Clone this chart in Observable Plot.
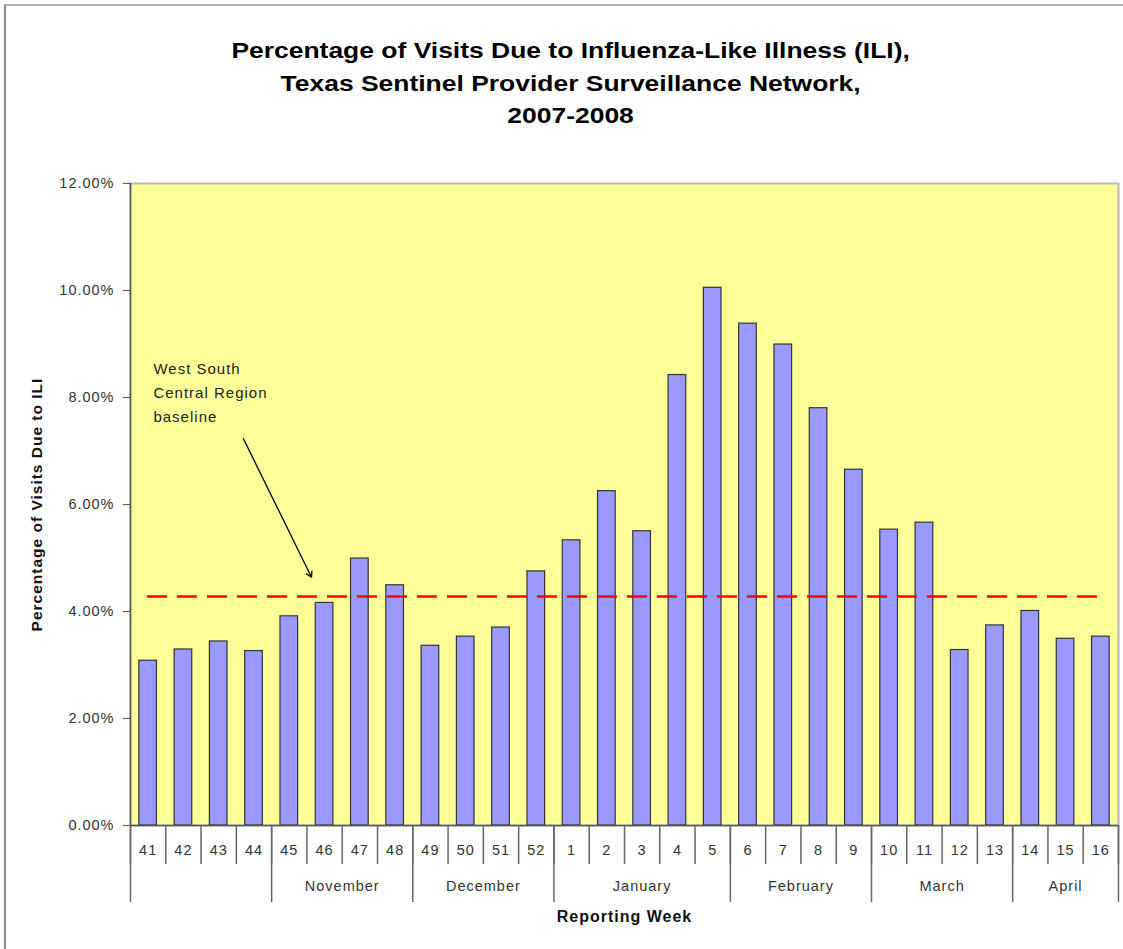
<!DOCTYPE html>
<html>
<head>
<meta charset="utf-8">
<script src="https://cdn.jsdelivr.net/npm/d3@7"></script>
<script src="https://cdn.jsdelivr.net/npm/@observablehq/plot@0.6"></script>
<style>
  html, body { margin: 0; padding: 0; background: #fff; overflow: hidden; }
  #page { position: relative; width: 1123px; height: 949px; font-family: "Liberation Sans", Arial, sans-serif; }
  #frameline { position: absolute; left: 4px; top: 4px; width: 1200px; height: 1000px; border-left: 2px solid #8a8a8a; border-top: 2px solid #b0b0b0; }
  #title { position: absolute; left: 0; top: 35px; width: 1141px; text-align: center; font-weight: bold; font-size: 21.5px; line-height: 32.5px; color: #000; transform: scaleX(1.23); transform-origin: 570px 0; }
  #chart { position: absolute; left: 0; top: 140px; }
</style>
</head>
<body>
<div id="page">
  <div id="frameline"></div>
  <div id="title">Percentage of Visits Due to Influenza-Like Illness (ILI),<br>Texas Sentinel Provider Surveillance Network,<br>2007-2008</div>
  <div id="chart"></div>
</div>
<script>
// Reporting weeks (tick labels)
const weeks = ["41","42","43","44","45","46","47","48","49","50","51","52","1","2","3","4","5","6","7","8","9","10","11","12","13","14","15","16"];
// Percentage of visits due to ILI (fraction)
const ili = [0.0308,0.0329,0.0344,0.0326,0.0391,0.0416,0.0499,0.0449,0.0336,0.0353,0.0370,0.0475,0.0533,0.0625,0.0550,0.0842,0.1005,0.0938,0.0899,0.0780,0.0665,0.0553,0.0566,0.0328,0.0374,0.0401,0.0349,0.0353];
// Month groups: label and number of weeks
const months = ["", "November", "December", "January", "February", "March", "April"];
const monthWeeks = [4, 4, 4, 5, 4, 4, 3];
// Baseline value
const baseline = 0.0428;
// Annotation
const annotationText = "West South\nCentral Region\nbaseline";

const bars = weeks.map((w, i) => ({i, week: w, value: ili[i]}));
const weekCenters = weeks.map((w, i) => i + 0.5);
const weekSeps = d3.range(weeks.length + 1);
const monthEdges = [0, ...d3.cumsum(monthWeeks)];
const monthCenters = monthWeeks.map((n, k) => monthEdges[k] + n / 2);

const chart = Plot.plot({
  width: 1123,
  height: 809,
  marginLeft: 130,
  marginRight: 5,
  marginTop: 43,
  marginBottom: 124,
  style: {fontFamily: "'Liberation Sans', Arial, sans-serif", background: "transparent", overflow: "visible", letterSpacing: "1px"},
  x: {type: "linear", domain: [0, weeks.length]},
  y: {domain: [0, 0.12]},
  marks: [
    Plot.frame({fill: "#FFFF99", stroke: "#b8b8b8", strokeWidth: 2}),
    Plot.rectY(bars, {x1: d => d.i + 0.25, x2: d => d.i + 0.75, y: "value", fill: "#9999FF", stroke: "#333", strokeWidth: 1.2}),
    Plot.ruleY([baseline], {x1: 0.48, x2: 27.45, stroke: "#FF0000", strokeWidth: 2.5, strokeDasharray: "20,10"}),
    Plot.arrow([{x1: 3.2, y1: 0.0723, x2: 5.13, y2: 0.0464}], {x1: "x1", y1: "y1", x2: "x2", y2: "y2", stroke: "#000", strokeWidth: 1.3, headLength: 7, bend: 0}),
    Plot.text([annotationText], {x: 0.65, y: 0.0876, text: d => d, textAnchor: "start", lineAnchor: "top", lineHeight: 1.6, fontSize: 15, fill: "#222"}),
    Plot.ruleX([0], {stroke: "#555", strokeWidth: 1.5}),
    Plot.ruleY([0], {stroke: "#555", strokeWidth: 1.5}),
    Plot.axisY({ticks: d3.range(0, 0.1201, 0.02), tickFormat: d3.format(".2%"), tickSize: 7, tickPadding: 9, fontSize: 14.5, label: null, color: "#333", stroke: "#555"}),
    Plot.text(["Percentage of Visits Due to ILI"], {frameAnchor: "left", dx: -93, rotate: -90, textAnchor: "middle", text: d => d, fontSize: 15.5, fontWeight: "bold", fill: "#111"}),
    Plot.axisX(weekSeps, {tickSize: 39, tickFormat: () => "", label: null, stroke: "#666", strokeWidth: 1.5}),
    Plot.axisX(monthEdges, {tickSize: 77, tickFormat: () => "", label: null, stroke: "#666", strokeWidth: 1.5}),
    Plot.axisX(weekCenters, {tickSize: 0, tickPadding: 19, tickFormat: d => weeks[Math.floor(d)], label: null, fontSize: 14.5, color: "#333"}),
    Plot.axisX(monthCenters, {tickSize: 0, tickPadding: 55, tickFormat: d => months[monthCenters.indexOf(d)], label: null, fontSize: 14.5, color: "#333"}),
    Plot.text(["Reporting Week"], {frameAnchor: "bottom", dy: 96, text: d => d, fontSize: 16, fontWeight: "bold", fill: "#111"})
  ]
});
document.getElementById("chart").appendChild(chart);
</script>
</body>
</html>
